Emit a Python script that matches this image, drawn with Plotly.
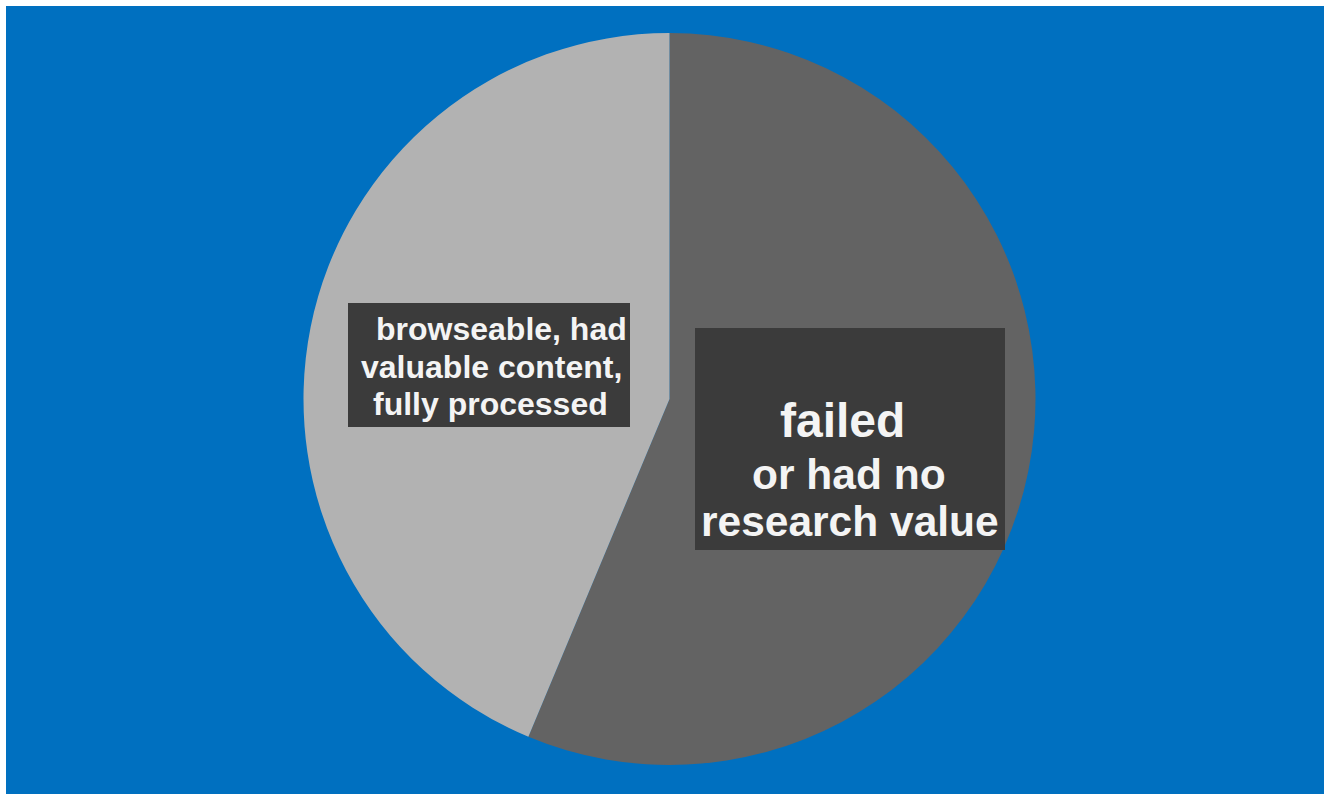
import plotly.graph_objects as go

W, H = 1324, 794

labels = ["failed or had no research value", "browseable, had valuable content, fully processed"]
values = [56.3, 43.7]
colors = ["#636363", "#b2b2b2"]

box1_lines = ["browseable, had", "valuable content,", "fully processed"]
box2_lines = ["failed", "or had no", "research value"]


def px(x):
    return x / W


def py(y):
    return 1 - y / H


fig = go.Figure()
fig.add_trace(go.Pie(
    labels=labels,
    values=values,
    sort=False,
    direction="clockwise",
    rotation=0,
    marker=dict(colors=colors, line=dict(width=0)),
    textinfo="none",
    hoverinfo="skip",
    showlegend=False,
    domain=dict(x=[px(669.5 - 366), px(669.5 + 366)], y=[py(399 + 366), py(399 - 366)]),
))

shapes = [
    # white strips on top and left edges
    dict(type="rect", xref="paper", yref="paper", x0=0, x1=px(6), y0=0, y1=1,
         fillcolor="#ffffff", line=dict(width=0), layer="above"),
    dict(type="rect", xref="paper", yref="paper", x0=0, x1=1, y0=py(6), y1=1,
         fillcolor="#ffffff", line=dict(width=0), layer="above"),
    # label boxes
    dict(type="rect", xref="paper", yref="paper", x0=px(348), x1=px(630), y0=py(427), y1=py(303),
         fillcolor="#3b3b3b", line=dict(width=0), layer="above"),
    dict(type="rect", xref="paper", yref="paper", x0=px(695), x1=px(1005), y0=py(550), y1=py(328),
         fillcolor="#3b3b3b", line=dict(width=0), layer="above"),
]

annotations = []
font_family = "Liberation Sans, Arial, sans-serif"
b1_pos = [(374, 329), (359, 367), (371, 404)]
for txt, (x, y) in zip(box1_lines, b1_pos):
    annotations.append(dict(text="<b>" + txt + "</b>", x=px(x), y=py(y), xref="paper", yref="paper",
                            xanchor="left", yanchor="middle", showarrow=False,
                            font=dict(family=font_family, size=32, color="#f4f4f4")))
b2_pos = [(842, 420, 48), (849, 474, 42.5), (850, 521, 42.5)]
for txt, (x, y, s) in zip(box2_lines, b2_pos):
    annotations.append(dict(text="<b>" + txt + "</b>", x=px(x), y=py(y), xref="paper", yref="paper",
                            xanchor="center", yanchor="middle", showarrow=False,
                            font=dict(family=font_family, size=s, color="#f4f4f4")))

fig.update_layout(
    width=W, height=H,
    margin=dict(l=0, r=0, t=0, b=0),
    paper_bgcolor="#0070c0",
    plot_bgcolor="#0070c0",
    shapes=shapes,
    annotations=annotations,
)

fig.write_html("out.html", config={"displayModeBar": False})
